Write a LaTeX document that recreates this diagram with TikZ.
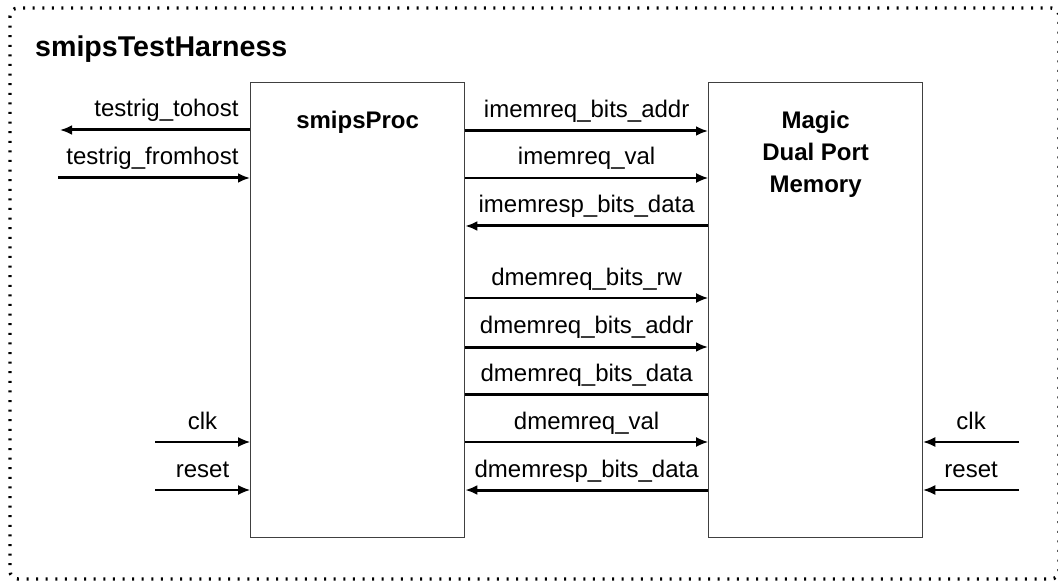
\documentclass[tikz,border=0pt]{standalone}
\usepackage{fontspec}
\setmainfont{Liberation Sans}
\usetikzlibrary{positioning}
\usetikzlibrary{arrows.meta}

\begin{document}
\begin{tikzpicture}[
  x=1pt,y=-1pt,
  block/.style={draw=black!75,line width=1.3pt,anchor=north west,minimum width=214pt,minimum height=455pt,inner sep=0pt},
  blocklabel/.style={font=\bfseries\fontsize{24}{32}\selectfont,align=center,inner sep=0pt},
  sig/.style={line width=1.3pt},
  bus/.style={line width=3pt},
  tor/.style={-{Latex[length=12pt,width=10pt]}},
  tol/.style={{Latex[length=12pt,width=10pt]}-},
  plain/.style={-},
  lbl/.style={font=\fontsize{24}{29}\selectfont,inner sep=0pt,anchor=base,yshift=13pt}
  ]
  \useasboundingbox (0,0) rectangle (1058,588);
  \draw[line width=3.4pt,dash pattern=on 2pt off 7.6pt,rounded corners=8pt] (10,8) rectangle (1059,579);
  \node (harness) [anchor=base west,inner sep=0pt,font=\bfseries\fontsize{28.6}{34}\selectfont] at (35,57) {smipsTestHarness};

  \node (proc) [block] at (250,82) {};
  \node (mem)  [block] at (708,82) {};
  \node (proclabel) [blocklabel,below=29pt of proc.north] {smipsProc};
  \node (memlabel)  [blocklabel,below=29pt of mem.north] {Magic\\Dual Port\\Memory};

  % processor <-> memory
  \foreach \y/\kind/\dir/\name in {
      131/bus/tor/imemreq\_bits\_addr,
      178/sig/tor/imemreq\_val,
      226/bus/tol/imemresp\_bits\_data,
      298/sig/tor/dmemreq\_bits\_rw,
      347/bus/tor/dmemreq\_bits\_addr,
      394/bus/plain/dmemreq\_bits\_data,
      442/sig/tor/dmemreq\_val,
      490/bus/tol/dmemresp\_bits\_data}
    \draw[\kind,\dir] (proc.east |- 0,\y) -- (mem.west |- 0,\y) node[lbl,midway] {\name};

  % host and clock inputs
  \coordinate (tohost)   at (60,130);
  \coordinate (fromhost) at (58,178);
  \coordinate (clkp)     at (155,442);
  \coordinate (resetp)   at (155,490);
  \coordinate (clkm)     at (1019,442);
  \coordinate (resetm)   at (1019,490);
  \draw[bus,tor] (proc.west |- tohost) -- (tohost) node[lbl,pos=0,anchor=base east,xshift=-10pt] {testrig\_tohost};
  \draw[bus,tor] (fromhost) -- (proc.west |- fromhost) node[lbl,pos=1,anchor=base east,xshift=-10pt] {testrig\_fromhost};
  \draw[sig,tor] (clkp) -- (proc.west |- clkp) node[lbl,midway] {clk};
  \draw[sig,tor] (resetp) -- (proc.west |- resetp) node[lbl,midway] {reset};
  \draw[sig,tor] (clkm) -- (mem.east |- clkm) node[lbl,midway] {clk};
  \draw[sig,tor] (resetm) -- (mem.east |- resetm) node[lbl,midway] {reset};
\end{tikzpicture}
\end{document}
